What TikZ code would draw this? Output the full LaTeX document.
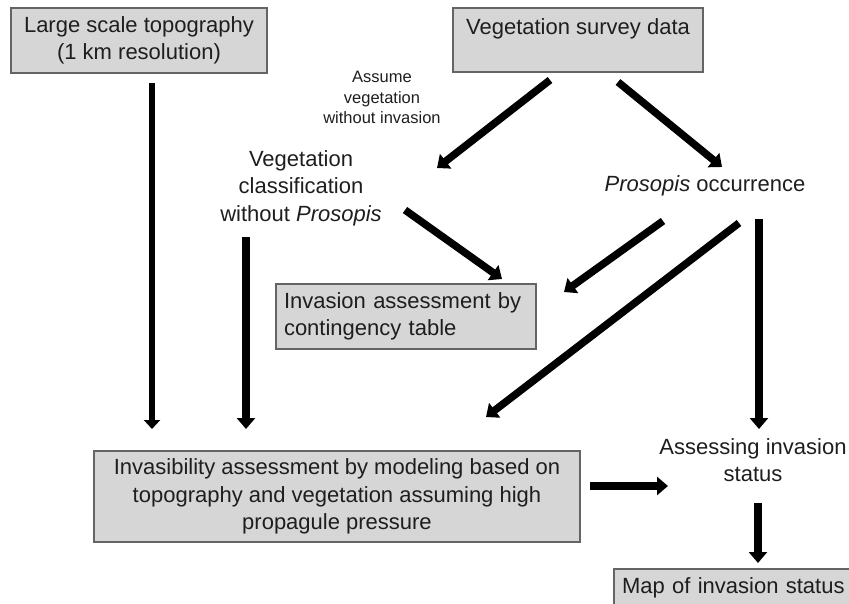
\documentclass[tikz,border=0pt]{standalone}
\usepackage{fontspec}
\setmainfont{Liberation Sans}
\usetikzlibrary{arrows.meta}
\definecolor{boxfill}{RGB}{214,214,214}
\definecolor{boxline}{RGB}{100,100,100}
\definecolor{txt}{RGB}{30,30,30}
\tikzset{
  graybox/.style={draw=boxline, line width=1.5pt, fill=boxfill, inner sep=0pt, text=txt,
    font=\fontsize{22}{27.5}\selectfont},
  plain/.style={inner sep=0pt, text=txt, align=center, font=\fontsize{22}{27.5}\selectfont},
  smalltxt/.style={inner sep=0pt, text=txt, align=center, font=\fontsize{16.5}{20.5}\selectfont},
  bigarrow/.style={line width=7.5pt, -{Triangle[width=18pt,length=11pt]}},
  thinarrow/.style={line width=6.5pt, -{Triangle[width=16pt,length=9pt]}},
}
\begin{document}
\begin{tikzpicture}[x=1pt,y=-1pt]
\useasboundingbox (0,0) rectangle (849,603);
\clip (0,0) rectangle (849,603);
% boxes
\node[graybox, minimum width=256pt, minimum height=65pt, align=center] (topo) at (139,40.5)
  {Large scale topography\\(1 km resolution)};
\node[graybox, minimum width=250pt, minimum height=64pt, align=center] (survey) at (578,40)
  {Vegetation survey data\\~};
\node[graybox, minimum width=260pt, minimum height=65pt, align=left, text width=244pt] (contab) at (406,316.5)
  {Invasion assessment by\\contingency table};
\node[graybox, minimum width=486pt, minimum height=91pt, align=center] (invas) at (337,496.5)
  {Invasibility assessment by modeling based on\\topography and vegetation assuming high\\propagule pressure};
\node[graybox, minimum width=266pt, minimum height=38pt, align=left, text width=250pt] (map) at (747,588)
  {Map of invasion status};
% plain texts
\node[smalltxt] (assume) at (382,97.5) {Assume\\vegetation\\without invasion};
\node[plain] (vegclass) at (301,188) {Vegetation\\classification\\without \textit{Prosopis}};
\node[plain] (occur) at (705,186) {\textit{Prosopis} occurrence};
\node[plain] (assess) at (753,460) {Assessing invasion\\status};
% arrow end points
\coordinate (a1s) at (152,83);  \coordinate (a1e) at (152,429);
\coordinate (a2s) at (246,237); \coordinate (a2e) at (246,429);
\coordinate (a3s) at (550,80);  \coordinate (a3e) at (437,168);
\coordinate (a4s) at (618,82);  \coordinate (a4e) at (722,167);
\coordinate (a5s) at (405,210); \coordinate (a5e) at (502,279);
\coordinate (a6s) at (663,221); \coordinate (a6e) at (564,292);
\coordinate (a7s) at (739,223); \coordinate (a7e) at (486,417);
\coordinate (a8s) at (759,219); \coordinate (a8e) at (759,429);
\coordinate (a9s) at (590,486); \coordinate (a9e) at (668,486);
\coordinate (a10s) at (758,503); \coordinate (a10e) at (758,563);
% arrows
\draw[thinarrow] (a1s) -- (a1e);
\draw[bigarrow] (a2s) -- (a2e);
\draw[bigarrow] (a3s) -- (a3e);
\draw[bigarrow] (a4s) -- (a4e);
\draw[bigarrow] (a5s) -- (a5e);
\draw[bigarrow] (a6s) -- (a6e);
\draw[bigarrow] (a7s) -- (a7e);
\draw[bigarrow] (a8s) -- (a8e);
\draw[bigarrow] (a9s) -- (a9e);
\draw[bigarrow] (a10s) -- (a10e);
\end{tikzpicture}
\end{document}
